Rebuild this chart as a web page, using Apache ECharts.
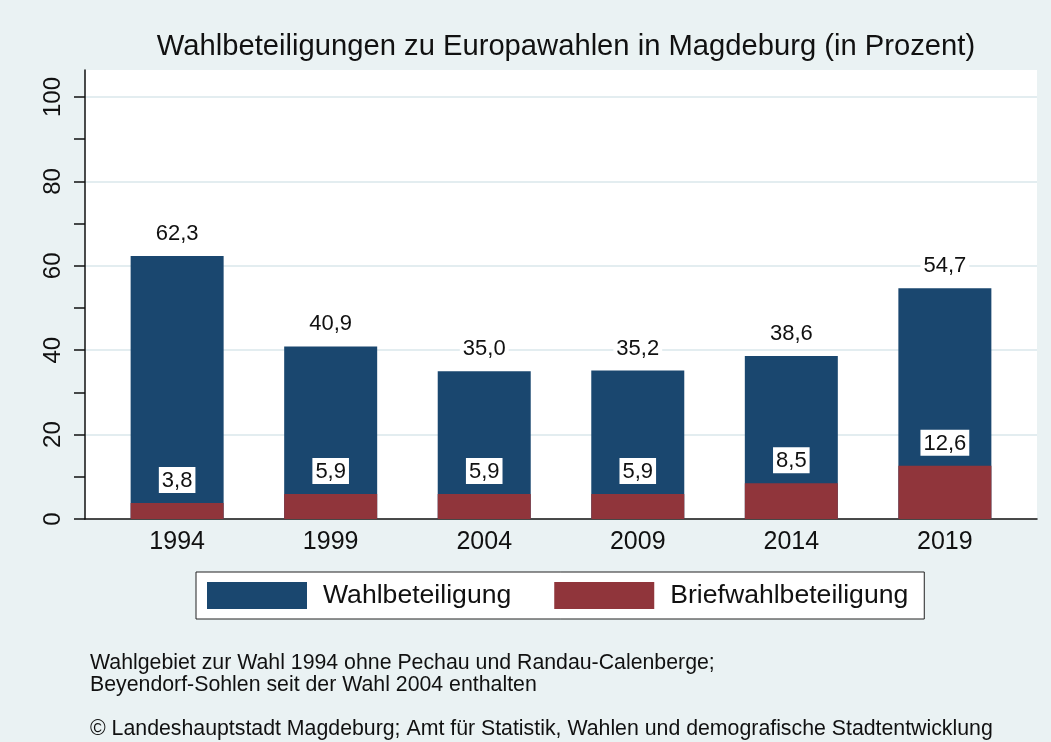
<!DOCTYPE html>
<html>
<head>
<meta charset="utf-8">
<script src="https://cdn.jsdelivr.net/npm/echarts@6/dist/echarts.min.js"></script>
<style>
html,body{margin:0;padding:0;background:#eaf2f3;}
#c{width:1051px;height:742px;}
</style>
</head>
<body>
<div id="c"></div>
<script>
var years = [1994, 1999, 2004, 2009, 2014, 2019];
var wahlbeteiligung = [62.3, 40.9, 35.0, 35.2, 38.6, 54.7];
var briefwahl = [3.8, 5.9, 5.9, 5.9, 8.5, 12.6];
var yTicks = [0, 20, 40, 60, 80, 100];
var yMinorTicks = [0, 10, 20, 30, 40, 50, 60, 70, 80, 90, 100];
var titleText = 'Wahlbeteiligungen zu Europawahlen in Magdeburg (in Prozent)';
var note1 = 'Wahlgebiet zur Wahl 1994 ohne Pechau und Randau-Calenberge;';
var note2 = 'Beyendorf-Sohlen seit der Wahl 2004 enthalten';
var note3 = '\u00A9 Landeshauptstadt Magdeburg; Amt f\u00FCr Statistik, Wahlen und demografische Stadtentwicklung';

var FONT = '"Liberation Sans", Arial, sans-serif';
function fmt(v) { return v.toFixed(1).replace('.', ','); }

var chart = echarts.init(document.getElementById('c'), null, {renderer: 'canvas'});

var labelStyle = {
  show: true,
  position: 'top',
  distance: 10,
  fontFamily: FONT,
  fontSize: 22,
  color: '#111',
  backgroundColor: '#fff',
  padding: [3, 3, 1, 3],
  formatter: function (p) { return fmt(p.value[1]); }
};

chart.setOption({
  backgroundColor: '#eaf2f3',
  animation: false,
  title: {
    text: titleText,
    left: 561,
    textAlign: 'center',
    top: 27,
    textStyle: {fontFamily: FONT, fontSize: 29.2, fontWeight: 'normal', color: '#111'}
  },
  grid: {
    left: 85, right: 14, top: 70, bottom: 223,
    show: true, backgroundColor: '#fff', borderWidth: 0
  },
  legend: {
    left: 196, top: 572,
    backgroundColor: '#fff',
    borderColor: '#222', borderWidth: 1,
    padding: [10, 16, 10, 11],
    icon: 'rect',
    itemWidth: 100, itemHeight: 27, itemGap: 43,
    textStyle: {fontFamily: FONT, fontSize: 26.6, color: '#111', padding: [0, 0, 0, 11]},
    data: ['Wahlbeteiligung', 'Briefwahlbeteiligung']
  },
  xAxis: {
    type: 'value',
    min: 1991, max: 2022,
    axisLine: {show: true, onZero: false, lineStyle: {color: '#111', width: 1.5}},
    axisTick: {show: false},
    splitLine: {show: false},
    axisLabel: {
      customValues: years,
      fontFamily: FONT, fontSize: 25, color: '#111', margin: 11,
      formatter: function (v) { return String(v); }
    }
  },
  yAxis: [{
    type: 'value',
    min: 0, max: 106.4, interval: 10,
    axisLine: {show: true, lineStyle: {color: '#111', width: 1.5}},
    axisTick: {show: true, length: 11, lineStyle: {color: '#111', width: 1.5},
      customValues: yMinorTicks},
    splitLine: {show: false},
    axisLabel: {
      customValues: yTicks,
      rotate: 90, margin: 20,
      fontFamily: FONT, fontSize: 24, color: '#111',
      formatter: function (v) { return String(v); }
    }
  }, {
    type: 'value',
    position: 'right',
    min: 0, max: 106.4, interval: 20,
    axisLine: {show: false},
    axisTick: {show: false},
    axisLabel: {show: false},
    splitLine: {show: true, showMinLine: false, showMaxLine: false, lineStyle: {color: '#e3edf0', width: 2}}
  }],
  series: [{
    name: 'Wahlbeteiligung',
    type: 'bar',
    barWidth: 93,
    barGap: '-100%',
    itemStyle: {color: '#1a476f'},
    label: labelStyle,
    data: years.map(function (y, i) { return [y, wahlbeteiligung[i]]; })
  }, {
    name: 'Briefwahlbeteiligung',
    type: 'bar',
    barWidth: 93,
    barGap: '-100%',
    itemStyle: {color: '#90353b'},
    label: labelStyle,
    data: years.map(function (y, i) { return [y, briefwahl[i]]; })
  }],
  graphic: [
    {type: 'text', left: 90, top: 653, style: {text: note1, font: '21.3px ' + FONT, fill: '#111'}},
    {type: 'text', left: 90, top: 675, style: {text: note2, font: '21.3px ' + FONT, fill: '#111'}},
    {type: 'text', left: 90, top: 719, style: {text: note3, font: '21.3px ' + FONT, fill: '#111'}}
  ]
});
</script>
</body>
</html>
